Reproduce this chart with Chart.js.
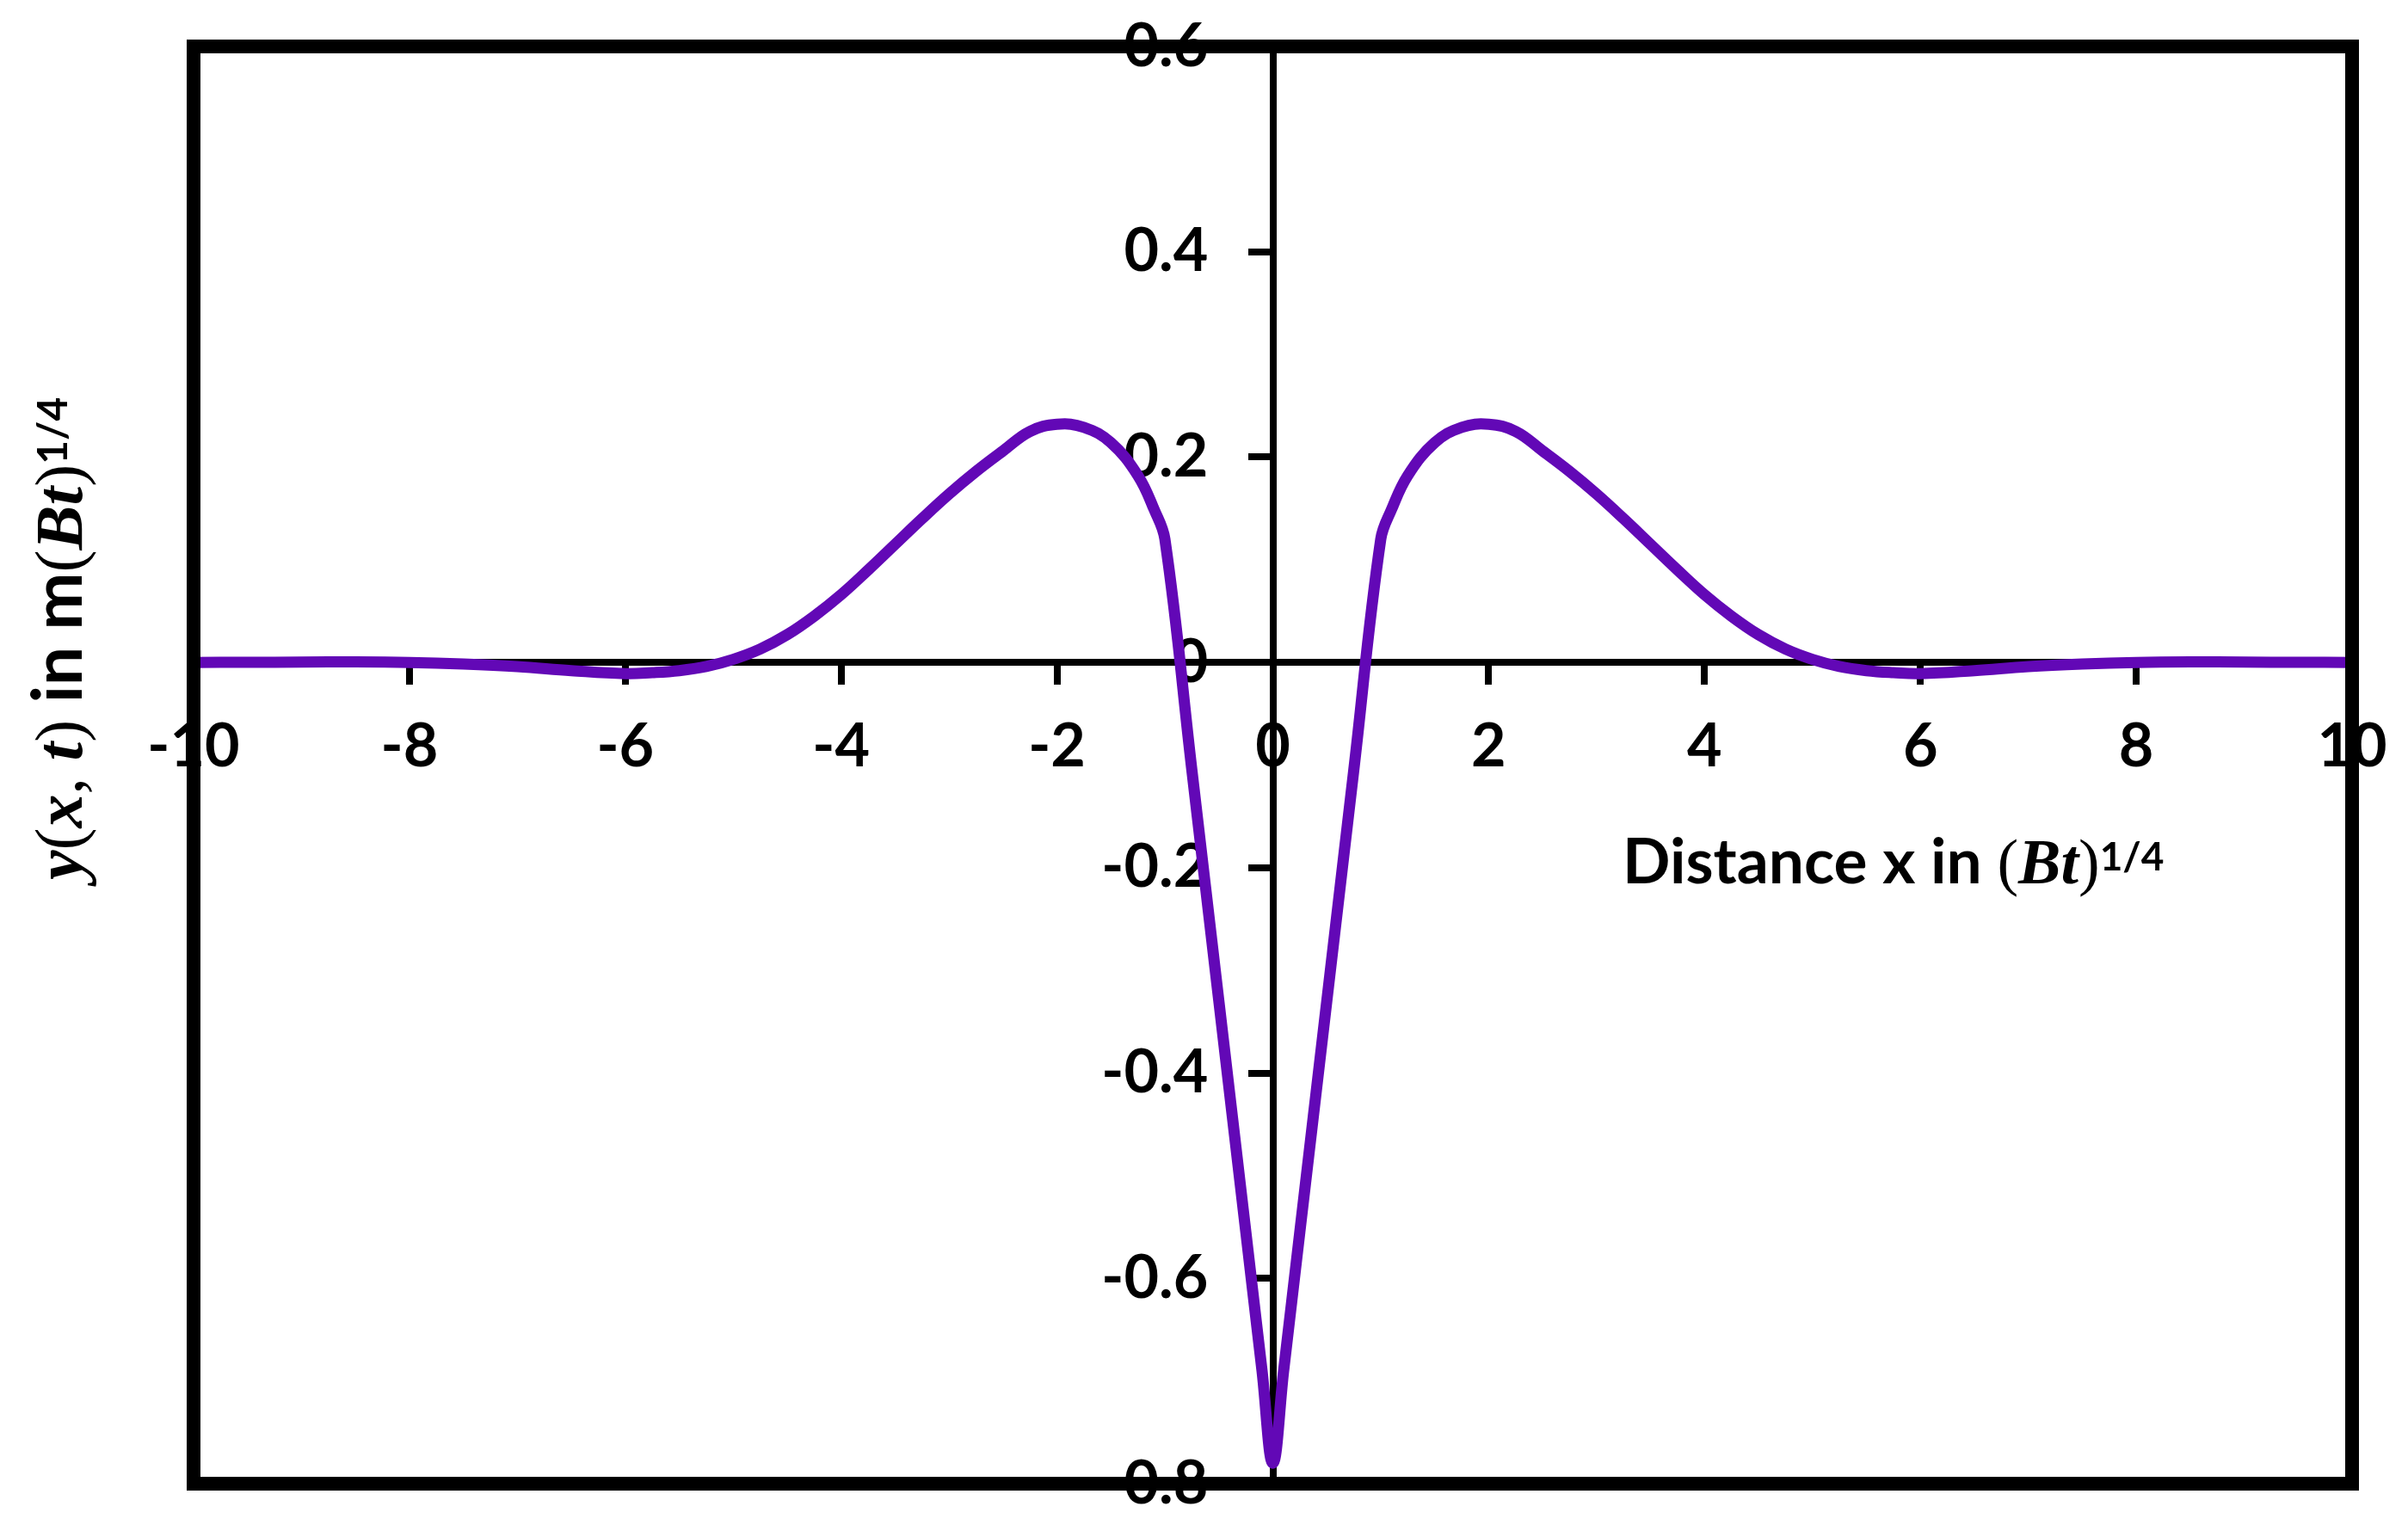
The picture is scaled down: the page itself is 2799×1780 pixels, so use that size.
<!DOCTYPE html>
<html>
<head>
<meta charset="utf-8">
<script src="https://cdn.jsdelivr.net/npm/chart.js@4.4.1/dist/chart.umd.min.js"></script>
<style>
  html, body { margin: 0; padding: 0; background: #fff; }
  canvas { display: block; }
</style>
</head>
<body>
<canvas id="myChart" width="2799" height="1780"></canvas>
<script>
// distance x in (Bt)^1/4
var xValues = [-10, -9.5, -9, -8.5, -8, -7.5, -7, -6.5, -6, -5.75, -5.5, -5.25, -5,
  -4.75, -4.5, -4.25, -4, -3.75, -3.5, -3.25, -3, -2.75, -2.5, -2.25, -2,
  -1.75, -1.5, -1.25, -1.1, -1, -0.75, -0.5, -0.25, -0.1, 0, 0.1, 0.25, 0.5, 0.75,
  1, 1.1, 1.25, 1.5, 1.75, 2, 2.25, 2.5, 2.75,
  3, 3.25, 3.5, 3.75, 4, 4.25, 4.5, 4.75, 5, 5.25, 5.5, 5.75, 6, 6.5, 7, 7.5,
  8, 8.5, 9, 9.5, 10];
// y(x,t) in m(Bt)^1/4
var yValues = [0, 0.0001, 0.0003, 0.0005, 0, -0.0015, -0.004, -0.008, -0.011, -0.010, -0.008, -0.004, 0.003,
  0.013, 0.027, 0.045, 0.066, 0.090, 0.115, 0.140, 0.164, 0.186, 0.206, 0.225, 0.232,
  0.229, 0.214, 0.182, 0.149, 0.120, -0.105, -0.33, -0.555, -0.69, -0.78, -0.69, -0.555, -0.33, -0.105,
  0.120, 0.149, 0.182, 0.214, 0.229, 0.232, 0.225, 0.206, 0.186,
  0.164, 0.140, 0.115, 0.090, 0.066, 0.045, 0.027, 0.013, 0.003, -0.004, -0.008, -0.010, -0.011, -0.008, -0.004, -0.0015,
  0, 0.0005, 0.0003, 0.0001, 0];

var xTicks = { min: -10, max: 10, step: 2 };
var yTicks = { min: -0.8, max: 0.6, step: 0.2 };

var points = xValues.map(function (x, i) { return { x: x, y: yValues[i] }; });

var tickFont = { family: 'Lato', weight: 'bold', size: 70 };

// axis titles mix a bold sans with italic math letters and a superscript
var xTitleRuns = [
  { t: 'Distance x in ', f: 'bold 73px Lato' },
  { t: '(', f: '74px "Liberation Serif"' },
  { t: 'Bt', f: 'italic bold 74px "Liberation Serif"' },
  { t: ')', f: '74px "Liberation Serif"' },
  { t: '1/4', f: 'bold 46px Lato', dy: -15 }
];
var yTitleRuns = [
  { t: 'y', f: 'italic bold 78px "Liberation Serif"' },
  { t: '(', f: '78px "Liberation Serif"' },
  { t: 'x', f: 'italic bold 78px "Liberation Serif"' },
  { t: ', ', f: '78px "Liberation Serif"' },
  { t: 't', f: 'italic bold 78px "Liberation Serif"' },
  { t: ')', f: '78px "Liberation Serif"' },
  { t: ' in m', f: 'bold 80px Lato' },
  { t: '(', f: '78px "Liberation Serif"' },
  { t: 'Bt', f: 'italic bold 78px "Liberation Serif"' },
  { t: ')', f: '78px "Liberation Serif"' },
  { t: '1/4', f: 'bold 48px Lato', dy: -17 }
];

function drawRuns(ctx, runs, x, y) {
  runs.forEach(function (r) {
    ctx.font = r.f;
    ctx.fillText(r.t, x, y + (r.dy || 0));
    x += ctx.measureText(r.t).width;
  });
}

function fmt(v) {
  return String(Number(v.toFixed(1)));
}

// labels may hang over the frame, so they should not push the plot area in
function noEdgePadding(scale) {
  scale.paddingTop = 0;
  scale.paddingBottom = 0;
  scale.paddingLeft = 0;
  scale.paddingRight = 0;
}

var framePlugin = {
  id: 'frame',
  afterDraw: function (chart) {
    var ctx = chart.ctx, a = chart.chartArea;
    ctx.save();
    ctx.strokeStyle = '#000';
    ctx.lineWidth = 16;
    ctx.strokeRect(a.left, a.top, a.right - a.left, a.bottom - a.top);

    ctx.fillStyle = '#000';
    ctx.textAlign = 'left';
    ctx.textBaseline = 'alphabetic';
    drawRuns(ctx, xTitleRuns, 1886, 1027);
    ctx.translate(95, 1023);
    ctx.rotate(-Math.PI / 2);
    drawRuns(ctx, yTitleRuns, 0, 0);
    ctx.restore();
  }
};

var ctx = document.getElementById('myChart').getContext('2d');
var myChart = new Chart(ctx, {
  type: 'line',
  data: {
    datasets: [{
      data: points,
      borderColor: '#6208B6',
      borderWidth: 13,
      pointRadius: 0,
      tension: 0.4,
      fill: false
    }]
  },
  options: {
    responsive: false,
    animation: false,
    devicePixelRatio: 1,
    layout: { padding: { left: 225, right: 65, top: 54, bottom: 55 } },
    plugins: {
      legend: { display: false },
      tooltip: { enabled: false }
    },
    scales: {
      x: {
        type: 'linear',
        position: { y: 0 },
        min: xTicks.min,
        max: xTicks.max,
        afterFit: noEdgePadding,
        ticks: { stepSize: xTicks.step, autoSkip: false, maxRotation: 0, color: '#000', font: tickFont, padding: 34 },
        grid: { drawOnChartArea: false, drawTicks: true, tickLength: 22, tickWidth: 8, lineWidth: 8, tickColor: '#000' },
        border: { display: true, color: '#000', width: 8 }
      },
      y: {
        type: 'linear',
        position: { x: 0 },
        min: yTicks.min,
        max: yTicks.max,
        afterFit: noEdgePadding,
        ticks: { stepSize: yTicks.step, display: false },
        grid: { drawOnChartArea: false, drawTicks: true, tickLength: 25, tickWidth: 8, lineWidth: 8, tickColor: '#000' },
        border: { display: true, color: '#000', width: 8 }
      },
      // tick labels of the vertical axis, set off to the left of the axis line
      yLabels: {
        axis: 'y',
        type: 'linear',
        position: { x: -0.6 },
        min: yTicks.min,
        max: yTicks.max,
        afterFit: noEdgePadding,
        ticks: { stepSize: yTicks.step, autoSkip: false, color: '#000', font: tickFont, callback: fmt },
        grid: { display: false },
        border: { display: false }
      }
    }
  },
  plugins: [framePlugin]
});
</script>
</body>
</html>
